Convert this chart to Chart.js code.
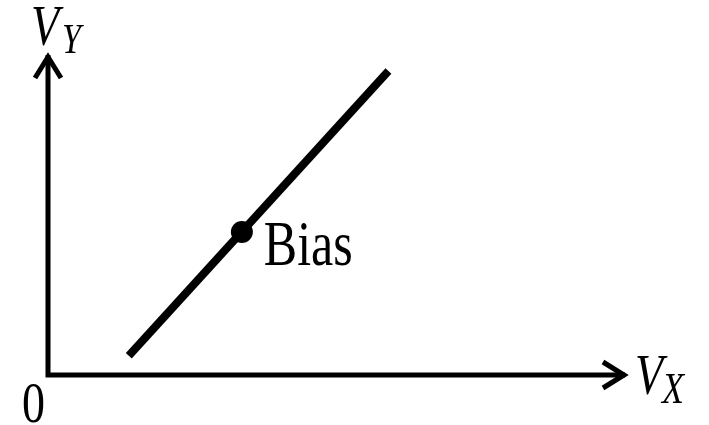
<!DOCTYPE html>
<html>
<head>
<meta charset="utf-8">
<script src="https://cdn.jsdelivr.net/npm/chart.js@4/dist/chart.umd.min.js"></script>
<style>
  html, body { margin: 0; padding: 0; background: #fff; }
</style>
</head>
<body>
<canvas id="graph" width="709" height="425"></canvas>
<script>
// load line V_Y vs V_X (arbitrary units, axes go 0..10)
const lineX = [1.4, 5.9];
const lineY = [0.6, 9.5];
const biasPoint = [{ x: 3.36, y: 4.47 }];
const axisMax = 10;

const ctx = document.getElementById("graph").getContext('2d');

// arrow heads + labels, placed from the scales
const decor = {
  id: 'decor',
  afterDatasetsDraw(chart) {
    const c = chart.ctx;
    const xs = chart.scales.x, ys = chart.scales.y;
    const ox = xs.getPixelForValue(0), oy = ys.getPixelForValue(0);
    const tx = xs.getPixelForValue(axisMax), ty = ys.getPixelForValue(axisMax);

    c.save();
    c.strokeStyle = 'black';
    c.lineWidth = 5;
    c.lineCap = 'butt';
    c.lineJoin = 'miter';
    // y arrow
    c.beginPath();
    c.moveTo(ox - 13, ty + 23);
    c.lineTo(ox, ty + 2);
    c.lineTo(ox + 13, ty + 23);
    c.stroke();
    // x arrow
    c.beginPath();
    c.moveTo(tx - 22, oy - 13);
    c.lineTo(tx - 1, oy);
    c.lineTo(tx - 22, oy + 13);
    c.stroke();
    c.restore();

    const txt = (s, x, y, size, italic) => {
      c.save();
      c.fillStyle = 'black';
      c.textAlign = 'left';
      c.textBaseline = 'alphabetic';
      c.font = (italic ? 'italic ' : '') + size + 'px "Liberation Serif", "Times New Roman", serif';
      c.translate(x, y);
      c.scale(1, 1.25);
      c.fillText(s, 0, 0);
      c.restore();
    };
    txt('V', ox - 17, ty - 10, 46, true);
    txt('Y', ox + 14, ty - 2, 34, true);
    txt('V', tx + 10, oy + 19, 46, true);
    txt('X', tx + 37, oy + 28, 36, true);
    txt('0', ox - 26, oy + 47, 46, false);
    const bx = xs.getPixelForValue(biasPoint[0].x), by = ys.getPixelForValue(biasPoint[0].y);
    txt('Bias', bx + 22, by + 33, 50, false);
  }
};

new Chart(ctx, {
  type: 'scatter',
  data: {
    datasets: [
      {
        // axes
        data: [{ x: 0, y: axisMax }, { x: 0, y: 0 }, { x: axisMax, y: 0 }],
        showLine: true,
        borderColor: 'black',
        borderWidth: 5,
        pointRadius: 0,
        borderJoinStyle: 'miter',
        borderCapStyle: 'butt',
      },
      {
        data: lineX.map((v, i) => ({ x: v, y: lineY[i] })),
        showLine: true,
        borderColor: 'black',
        borderWidth: 8,
        pointRadius: 0,
        borderCapStyle: 'butt',
      },
      {
        data: biasPoint,
        pointRadius: 11,
        pointBackgroundColor: 'black',
        pointBorderWidth: 0,
      },
    ],
  },
  options: {
    responsive: false,
    animation: false,
    devicePixelRatio: 1,
    layout: {
      padding: { left: 48, right: 84, top: 55, bottom: 50 },
    },
    scales: {
      x: { type: 'linear', min: 0, max: axisMax, display: false },
      y: { type: 'linear', min: 0, max: axisMax, display: false },
    },
    plugins: {
      legend: { display: false },
      tooltip: { enabled: false },
    },
    clip: false,
  },
  plugins: [decor],
});
</script>
</body>
</html>
